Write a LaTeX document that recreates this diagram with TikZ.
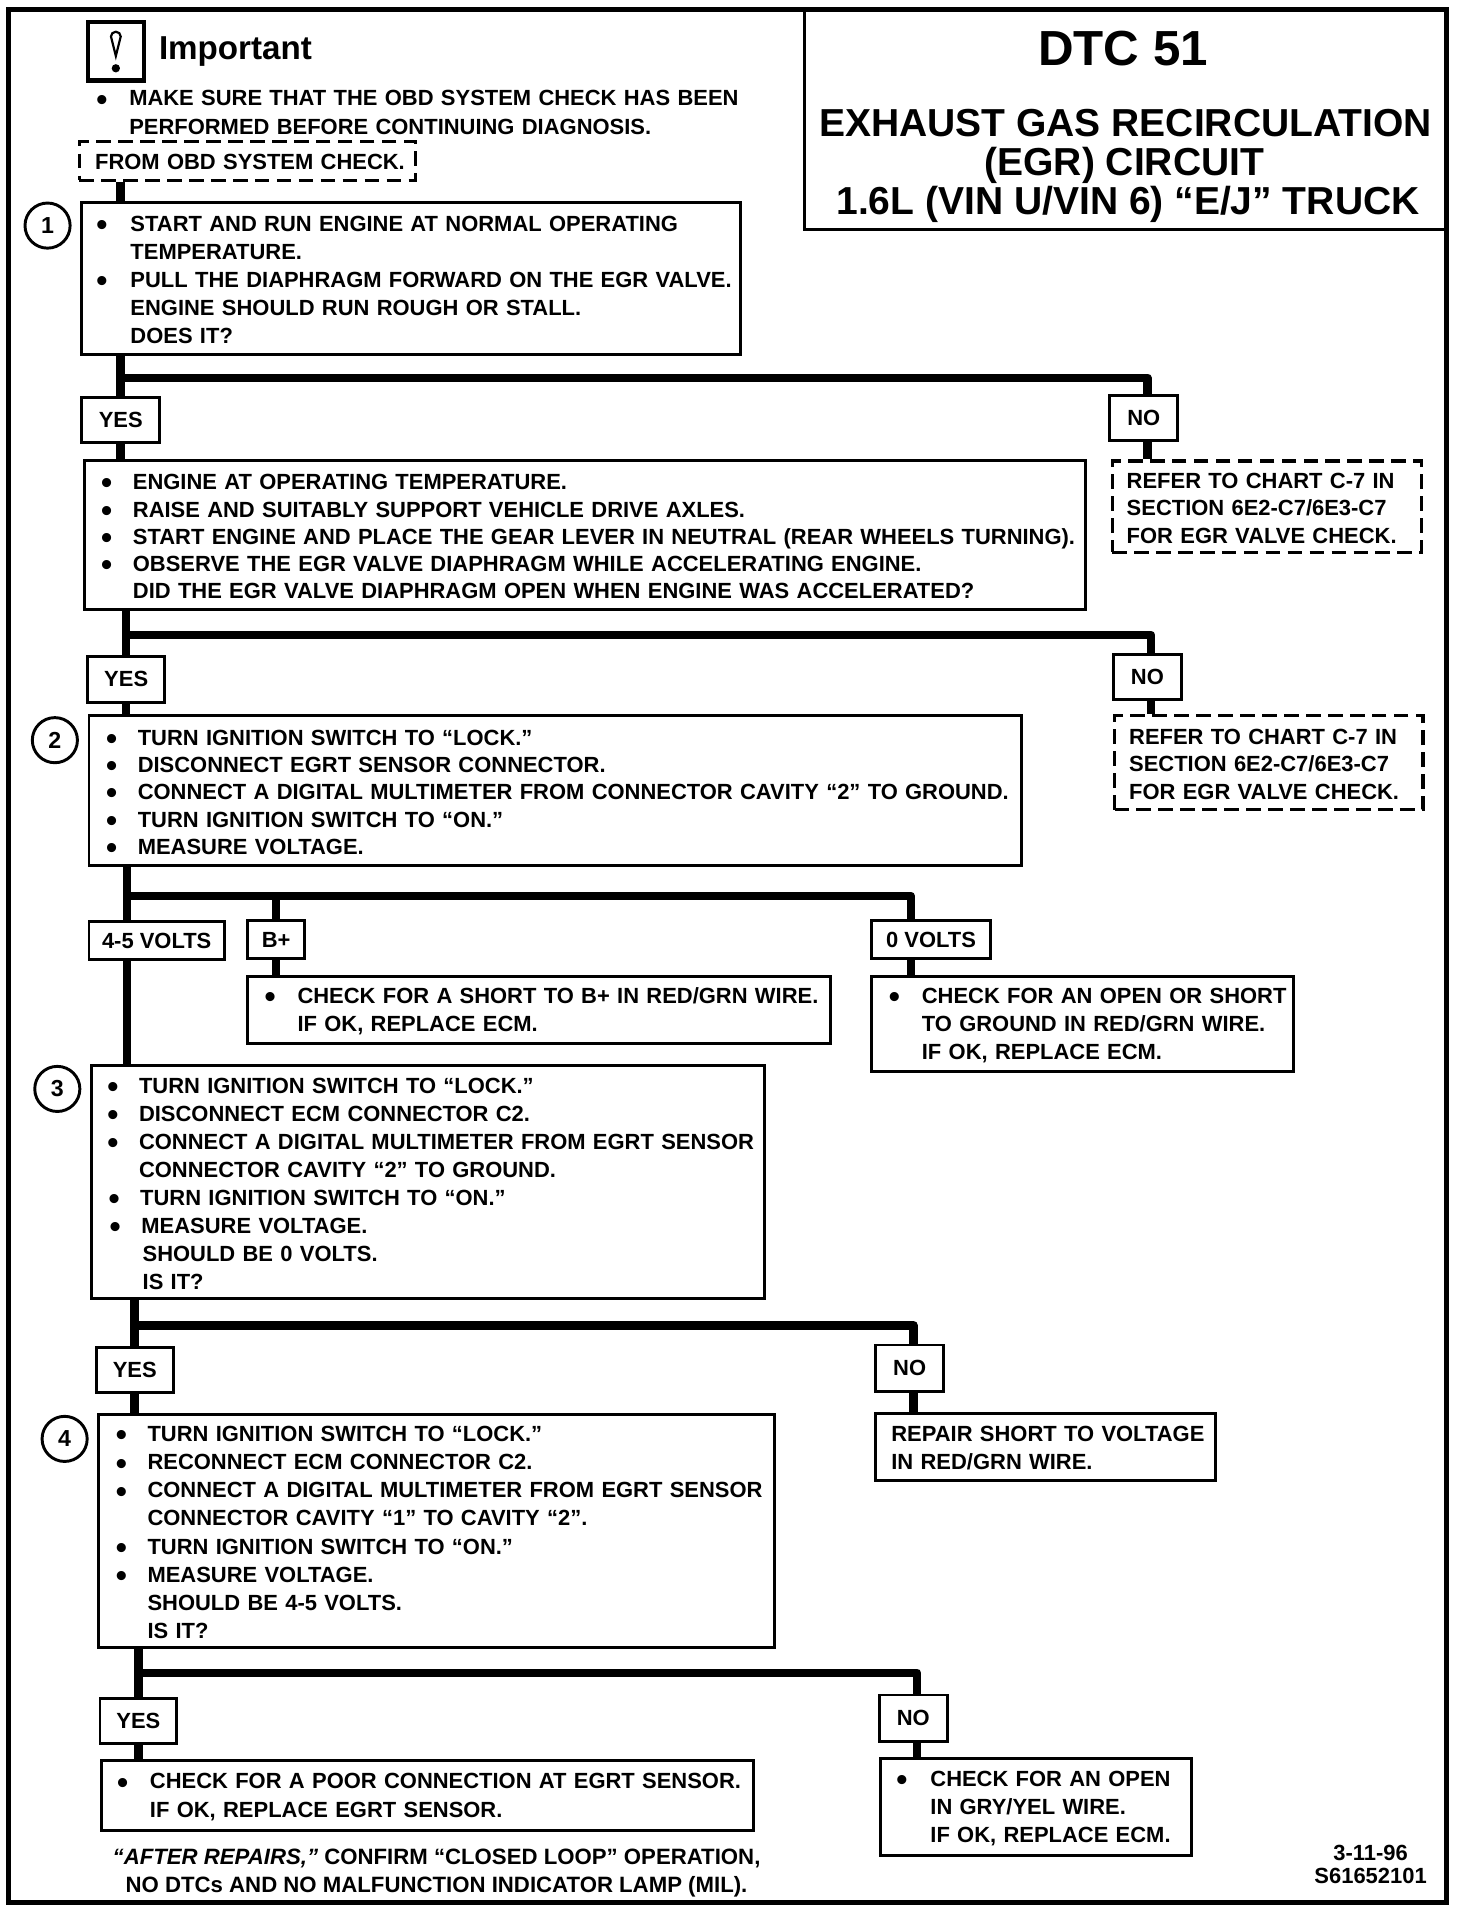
\documentclass[tikz,border=0pt]{standalone}
\usepackage{fontspec}
\setmainfont{Liberation Sans}
\newcommand{\bl}[1]{\mbox{\makebox[\bulind pt][l]{\smash{\raisebox{-1.7pt}{\fontsize{13}{13}\selectfont •}}}#1}}
\newcommand{\nb}[1]{\mbox{\hspace*{\bulind pt}#1}}
% name, x1, y1, x2, y2, text left, bullet indent, style, content
\newcommand{\tbox}[9]{%
  \pgfmathsetmacro\bulind{#7*0.5}%
  \pgfmathsetmacro\tw{(#4-#2-2*(#6-#2))*0.5}%
  \pgfmathsetmacro\ip{(#6-#2)*0.5}%
  \pgfmathsetmacro\bh{(#5-#3)*0.5}%
  \node[#8,text width=\tw pt,inner xsep=\ip pt,minimum height=\bh pt] (#1) at ({(#2+#4)/2},{(#3+#5)/2}) {\rule{0pt}{7.5pt}#9};%
}
\tikzset{
  body/.style={font=\bfseries\fontsize{9}{11.5}\selectfont,align=left,inner ysep=0pt},
  tight/.style={font=\bfseries\fontsize{9}{11.2}\selectfont},
  solidbox/.style={body,draw,line width=1.2pt},
  dashbox/.style={body,draw,line width=1.3pt,dash pattern=on 6pt off 3pt},
  tag/.style={draw,line width=1.2pt,font=\bfseries\fontsize{9}{10}\selectfont,inner sep=0pt,align=center},
  conn/.style={line width=3.5pt,line join=round},
  num/.style={circle,draw,line width=1.2pt,minimum size=18.5pt,inner sep=0pt,font=\bfseries\fontsize{9.5}{10}\selectfont},
  free/.style={font=\bfseries\fontsize{9.1}{11.5}\selectfont,inner sep=0pt,align=center},
  titletext/.style={font=\bfseries\fontsize{16}{16}\selectfont,inner sep=0pt,anchor=base},
}
\newcommand{\tagnode}[6]{\node[tag,minimum width={(#4-#2)*0.5pt},minimum height={(#5-#3)*0.5pt}] (#1) at ({(#2+#4)/2},{(#3+#5)/2}) {#6};}
\begin{document}
\begin{tikzpicture}[x=0.5pt,y=-0.5pt]
\useasboundingbox (0,0) rectangle (1207,1568);
% frame and title
\node[draw,line width=2pt,minimum width=589.5pt,minimum height=776pt,inner sep=0pt] (frame) at (596.5,784) {};
\node[draw,line width=1.2pt,minimum width=263pt,minimum height=90pt,inner sep=0pt] (titlebox) at (923,98) {};
\node[font=\bfseries\fontsize{20.2}{20}\selectfont,inner sep=0pt] (dtc) at (921,40) {DTC 51};
\node[titletext] (t1) at (923,112) {EXHAUST GAS RECIRCULATION};
\node[titletext] (t2) at (922,144) {(EGR) CIRCUIT};
\node[titletext] (t3) at (925,176) {1.6L (VIN U/VIN 6) “E/J” TRUCK};
% important
\node[draw,line width=1.8pt,minimum width=23pt,minimum height=24pt,inner sep=0pt] (icon) at (95,42) {};
\draw[line width=0.9pt] (icon.center) ++(0,4) -- ++(-4,-16) arc (180:360:4) -- cycle;
\fill (95,56) circle (3.4);
\node[font=\bfseries\fontsize{13.6}{16}\selectfont,inner sep=0pt,anchor=base west] (imp) at (130,49) {Important};
\tbox{impt}{79}{68}{640}{114}{79}{27}{body}{\bl{MAKE SURE THAT THE OBD SYSTEM CHECK HAS BEEN}\\\nb{PERFORMED BEFORE CONTINUING DIAGNOSIS.}}
% boxes
\tbox{obd}{65}{116}{341}{148}{78}{0}{dashbox}{\nb{FROM OBD SYSTEM CHECK.}}
\tbox{s1}{67}{166}{607}{291}{79}{28}{solidbox}{\bl{START AND RUN ENGINE AT NORMAL OPERATING}\\\nb{TEMPERATURE.}\\\bl{PULL THE DIAPHRAGM FORWARD ON THE EGR VALVE.}\\\nb{ENGINE SHOULD RUN ROUGH OR STALL.}\\\nb{DOES IT?}}
\tagnode{y1}{67}{326}{131}{363}{YES}
\tagnode{n1}{910}{324}{966}{361}{NO}
\tbox{s1b}{69}{378}{890}{500}{83}{26}{solidbox,tight}{\bl{ENGINE AT OPERATING TEMPERATURE.}\\\bl{RAISE AND SUITABLY SUPPORT VEHICLE DRIVE AXLES.}\\\bl{START ENGINE AND PLACE THE GEAR LEVER IN NEUTRAL (REAR WHEELS TURNING).}\\\bl{OBSERVE THE EGR VALVE DIAPHRAGM WHILE ACCELERATING ENGINE.}\\\nb{DID THE EGR VALVE DIAPHRAGM OPEN WHEN ENGINE WAS ACCELERATED?}}
\tbox{c1}{912}{378}{1166}{453}{924}{0}{dashbox,tight}{\nb{REFER TO CHART C-7 IN}\\\nb{SECTION 6E2-C7/6E3-C7}\\\nb{FOR EGR VALVE CHECK.}}
\tagnode{y2}{72}{538}{135}{576}{YES}
\tagnode{n2}{913}{537}{969}{574}{NO}
\tbox{s2}{73}{587}{838}{710}{87}{26}{solidbox,tight}{\bl{TURN IGNITION SWITCH TO “LOCK.”}\\\bl{DISCONNECT EGRT SENSOR CONNECTOR.}\\\bl{CONNECT A DIGITAL MULTIMETER FROM CONNECTOR CAVITY “2” TO GROUND.}\\\bl{TURN IGNITION SWITCH TO “ON.”}\\\bl{MEASURE VOLTAGE.}}
\tbox{c2}{914}{587}{1167}{664}{926}{0}{dashbox,tight}{\nb{REFER TO CHART C-7 IN}\\\nb{SECTION 6E2-C7/6E3-C7}\\\nb{FOR EGR VALVE CHECK.}}
\tagnode{v45}{73}{756}{184}{787}{4-5 VOLTS}
\tagnode{vb}{203}{755}{250}{786}{B+}
\tagnode{v0}{715}{755}{812}{786}{0 VOLTS}
\tbox{rb}{203}{801}{681}{856}{217}{27}{solidbox}{\bl{CHECK FOR A SHORT TO B+ IN RED/GRN WIRE.}\\\nb{IF OK, REPLACE ECM.}}
\tbox{r0}{715}{801}{1061}{879}{729}{27}{solidbox}{\bl{CHECK FOR AN OPEN OR SHORT}\\\nb{TO GROUND IN RED/GRN WIRE.}\\\nb{IF OK, REPLACE ECM.}}
\tbox{s3}{75}{874}{627}{1065}{88}{26}{solidbox}{\bl{TURN IGNITION SWITCH TO “LOCK.”}\\\bl{DISCONNECT ECM CONNECTOR C2.}\\\bl{CONNECT A DIGITAL MULTIMETER FROM EGRT SENSOR}\\\nb{CONNECTOR CAVITY “2” TO GROUND.}\\\hspace*{.5pt}\bl{TURN IGNITION SWITCH TO “ON.”}\\\hspace*{1pt}\bl{MEASURE VOLTAGE.}\\\hspace*{1.5pt}\nb{SHOULD BE 0 VOLTS.}\\\hspace*{1.5pt}\nb{IS IT?}}
\tagnode{y3}{79}{1105}{142}{1142}{YES}
\tagnode{n3}{718}{1103}{774}{1141}{NO}
\tbox{r3}{718}{1159}{997}{1214}{731}{0}{solidbox}{\nb{REPAIR SHORT TO VOLTAGE}\\\nb{IN RED/GRN WIRE.}}
\tbox{s4}{81}{1160}{635}{1351}{95}{26}{solidbox}{\bl{TURN IGNITION SWITCH TO “LOCK.”}\\\bl{RECONNECT ECM CONNECTOR C2.}\\\bl{CONNECT A DIGITAL MULTIMETER FROM EGRT SENSOR}\\\nb{CONNECTOR CAVITY “1” TO CAVITY “2”.}\\\bl{TURN IGNITION SWITCH TO “ON.”}\\\bl{MEASURE VOLTAGE.}\\\nb{SHOULD BE 4-5 VOLTS.}\\\nb{IS IT?}}
\tagnode{y4}{82}{1393}{145}{1430}{YES}
\tagnode{n4}{721}{1390}{777}{1428}{NO}
\tbox{r4y}{83}{1444}{618}{1501}{96}{27}{solidbox}{\bl{CHECK FOR A POOR CONNECTION AT EGRT SENSOR.}\\\nb{IF OK, REPLACE EGRT SENSOR.}}
\tbox{r4n}{722}{1442}{977}{1522}{735}{28}{solidbox}{\bl{CHECK FOR AN OPEN}\\\nb{IN GRY/YEL WIRE.}\\\nb{IF OK, REPLACE ECM.}}
% step numbers
\node[num] (k1) at (39,185) {1};
\node[num] (k2) at (45,607) {2};
\node[num] (k3) at (47,893) {3};
\node[num] (k4) at (53,1180) {4};
% footer
\node[free] (foot) at (358,1536) {\textit{“AFTER REPAIRS,”} CONFIRM “CLOSED LOOP” OPERATION,\\NO DTCs AND NO MALFUNCTION INDICATOR LAMP (MIL).};
\node[free,font=\bfseries\fontsize{9}{9.5}\selectfont] (code) at (1124,1529) {3-11-96\\S61652101};
% connector attachment points that sit off the middle of their tags
\coordinate (v45t) at ([xshift=-12.25pt]v45.north);
\coordinate (v45b) at ([xshift=-12.25pt]v45.south);
\coordinate (v0t) at ([xshift=-8.25pt]v0.north);
\coordinate (v0b) at ([xshift=-8.25pt]v0.south);
\coordinate (n1t) at ([xshift=1.5pt]n1.north);
\coordinate (n1b) at ([xshift=1.5pt]n1.south);
\coordinate (n2t) at ([xshift=1.5pt]n2.north);
\coordinate (n2b) at ([xshift=1.5pt]n2.south);
\coordinate (n3t) at ([xshift=1.5pt]n3.north);
\coordinate (n3b) at ([xshift=1.5pt]n3.south);
\coordinate (n4t) at ([xshift=1.5pt]n4.north);
\coordinate (n4b) at ([xshift=1.5pt]n4.south);
% connectors
\draw[conn] (obd.south -| y1.north) -- (s1.north -| y1.north);
\draw[conn] (s1.south -| y1.north) -- (y1.north);
\draw[conn] (y1.north) ++(0,-15) -| (n1t);
\draw[conn] (y1.south) -- (s1b.north -| y1.south);
\draw[conn] (n1b) -- (c1.north -| n1b);
\draw[conn] (s1b.south -| y2.north) -- (y2.north);
\draw[conn] (y2.north) ++(0,-16) -| (n2t);
\draw[conn] (y2.south) -- (s2.north -| y2.south);
\draw[conn] (n2b) -- (c2.north -| n2b);
\draw[conn] (s2.south -| v45t) -- (v45t);
\draw[conn] (v45t) ++(0,-20) -| (v0t);
\draw[conn] (vb.north) ++(0,-19) -- (vb.north);
\draw[conn] (vb.south) -- (rb.north -| vb.south);
\draw[conn] (v0b) -- (r0.north -| v0b);
\draw[conn] (v45b) -- (s3.north -| v45b);
\draw[conn] (s3.south -| y3.north) -- (y3.north);
\draw[conn] (y3.north) ++(0,-17) -| (n3t);
\draw[conn] (y3.south) -- (s4.north -| y3.south);
\draw[conn] (n3b) -- (r3.north -| n3b);
\draw[conn] (s4.south -| y4.north) -- (y4.north);
\draw[conn] (y4.north) ++(0,-20) -| (n4t);
\draw[conn] (y4.south) -- (r4y.north -| y4.south);
\draw[conn] (n4b) -- (r4n.north -| n4b);
\end{tikzpicture}
\end{document}
